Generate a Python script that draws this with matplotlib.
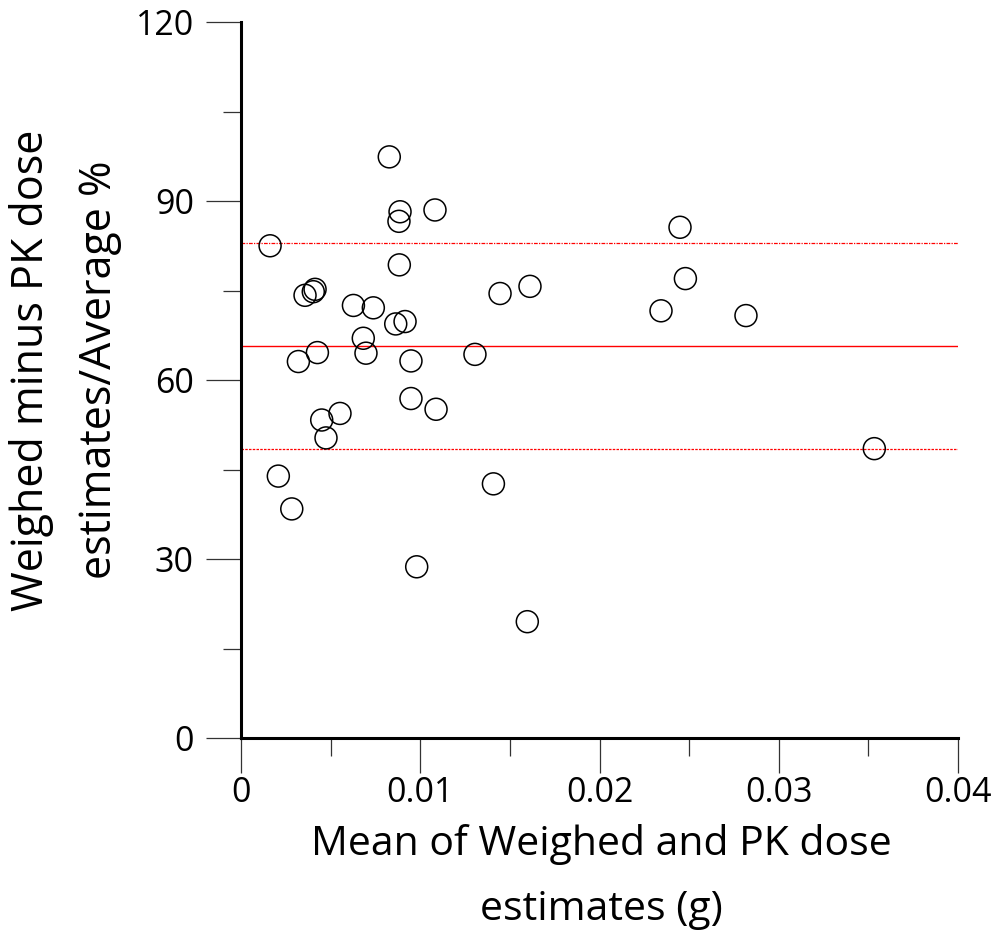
import matplotlib
matplotlib.use("Agg")
import matplotlib.pyplot as plt
from matplotlib.ticker import MultipleLocator

plt.rcParams['font.family'] = ['Open Sans', 'DejaVu Sans']

# mean of weighed and PK dose estimates (g)
dose_mean = [0.00162, 0.00887, 0.00881, 0.01082, 0.00883, 0.00357, 0.00403,
             0.00413, 0.00627, 0.00738, 0.00863, 0.00915, 0.00682, 0.00697,
             0.00426, 0.00320, 0.00948, 0.01305, 0.00948, 0.01088, 0.00552,
             0.00450, 0.00474, 0.00208, 0.00283, 0.00980, 0.01597, 0.00827,
             0.02449, 0.02479, 0.02343, 0.02817, 0.03533, 0.01445, 0.01612,
             0.01408]
# difference / average (%)
diff_pct = [82.5, 88.2, 86.6, 88.5, 79.3, 74.2, 74.8,
            75.2, 72.5, 72.1, 69.4, 69.8, 67.0, 64.5,
            64.6, 63.1, 63.2, 64.3, 56.9, 55.1, 54.4,
            53.3, 50.3, 43.9, 38.4, 28.7, 19.5, 97.4,
            85.6, 77.0, 71.6, 70.8, 48.5, 74.5, 75.7,
            42.6]

mean_diff = 65.7
upper_loa = 82.9
lower_loa = 48.5

fig = plt.figure(figsize=(9.94, 9.49), dpi=100)
ax = fig.add_axes([0.2425, 0.2223, 0.7213, 0.7545])

ax.scatter(dose_mean, diff_pct, s=250, facecolors='none', edgecolors='black',
           linewidths=1.1, zorder=3)

ax.axhline(mean_diff, color='red', lw=1.0, zorder=2)
ax.axhline(upper_loa, color='red', lw=0.9, ls=(0, (3, 1, 1, 1)), zorder=2)
ax.axhline(lower_loa, color='red', lw=0.9, ls=(0, (2, 1)), zorder=2)

ax.set_xlim(0, 0.04)
ax.set_ylim(0, 120)

ax.set_xticks([0, 0.01, 0.02, 0.03, 0.04])
ax.set_xticklabels(['0', '0.01', '0.02', '0.03', '0.04'])
ax.xaxis.set_minor_locator(MultipleLocator(0.005))
ax.yaxis.set_major_locator(MultipleLocator(30))
ax.yaxis.set_minor_locator(MultipleLocator(15))

for s in ['top', 'right']:
    ax.spines[s].set_visible(False)
for s in ['left', 'bottom']:
    ax.spines[s].set_linewidth(2.2)

ax.tick_params(which='major', length=25, width=0.9, color='#333333',
               labelsize=24.5, direction='out')
ax.tick_params(which='minor', length=13, width=0.9, color='#333333',
               direction='out')
ax.tick_params(axis='x', which='major', pad=2)
ax.tick_params(axis='y', which='major', pad=9)

ax.set_xlabel('Mean of Weighed and PK dose\nestimates (g)', fontsize=29.5,
              linespacing=1.8)
ax.set_ylabel('Weighed minus PK dose\nestimates/Average %', fontsize=31,
              linespacing=1.7)
ax.xaxis.set_label_coords(0.503, -0.12)
ax.yaxis.set_label_coords(-0.166, 0.514)

plt.savefig('out.png', dpi=100)
